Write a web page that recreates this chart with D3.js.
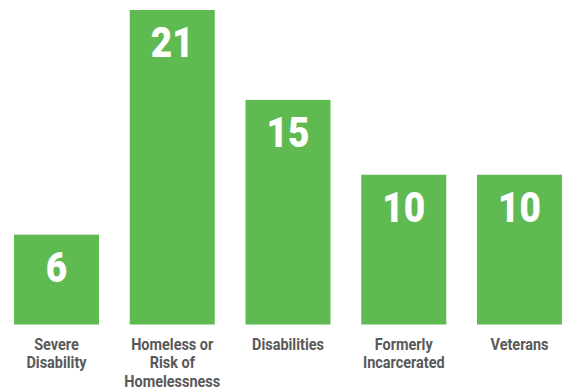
<!DOCTYPE html>
<html>
<head>
<meta charset="utf-8">
<script src="https://cdn.jsdelivr.net/npm/d3@7/dist/d3.min.js"></script>
<style>
  html, body { margin: 0; padding: 0; background: #fff; }
  svg { display: block; }
</style>
</head>
<body>
<svg id="chart" width="563" height="391"></svg>
<script>
// Categories (each entry split into display lines) and their counts
const categories = [
  ["Severe", "Disability"],
  ["Homeless or", "Risk of", "Homelessness"],
  ["Disabilities"],
  ["Formerly", "Incarcerated"],
  ["Veterans"]
];
const values = [6, 21, 15, 10, 10];

const barColor = "#5fba52";
const labelColor = "#595959";

const svg = d3.select("#chart");

const x = d3.scaleBand()
  .domain(d3.range(categories.length))
  .range([14, 562])
  .paddingInner(0.2657)
  .paddingOuter(0);

const y = d3.scaleLinear()
  .domain([0, d3.max(values)])
  .range([324.5, 10]);

const data = values.map((v, i) => ({ i, v, lines: categories[i] }));
const cx = d => x(d.i) + x.bandwidth() / 2;

// Bars
svg.append("g")
  .selectAll("rect")
  .data(data)
  .join("rect")
  .attr("x", d => x(d.i))
  .attr("y", d => y(d.v))
  .attr("width", x.bandwidth())
  .attr("height", d => y(0) - y(d.v))
  .attr("fill", barColor);

// Value labels inside the top of each bar (condensed by horizontal scaling)
svg.append("g")
  .selectAll("text")
  .data(data)
  .join("text")
  .attr("transform", d => `translate(${cx(d)},${y(d.v) + 47}) scale(0.88,1)`)
  .attr("text-anchor", "middle")
  .attr("fill", "#ffffff")
  .style("font-family", "Roboto, 'Open Sans', sans-serif")
  .style("font-weight", 900)
  .style("font-size", "42px")
  .text(d => d.v);

// Category labels below the baseline
const catText = svg.append("g")
  .selectAll("text")
  .data(data)
  .join("text")
  .attr("transform", d => `translate(${cx(d)},350) scale(0.85,1)`)
  .attr("text-anchor", "middle")
  .attr("fill", labelColor)
  .style("font-family", "Roboto, 'Open Sans', sans-serif")
  .style("font-weight", 700)
  .style("font-size", "17px");

catText.selectAll("tspan")
  .data(d => d.lines)
  .join("tspan")
  .attr("x", 0)
  .attr("dy", (t, k) => k === 0 ? 0 : 18.5)
  .text(t => t);
</script>
</body>
</html>
